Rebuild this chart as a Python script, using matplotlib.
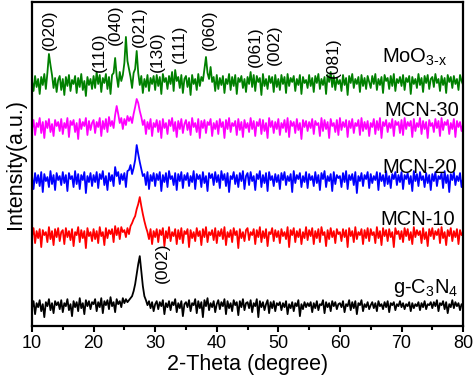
import matplotlib
matplotlib.use("Agg")
import matplotlib.pyplot as plt
import numpy as np

plt.rcParams["font.family"] = ["Liberation Sans", "DejaVu Sans"]
plt.rcParams["mathtext.fontset"] = "custom"
plt.rcParams["mathtext.rm"] = "Liberation Sans"
plt.rcParams["mathtext.it"] = "Liberation Sans"

# 2-theta grid, 0.25 degree steps from 10 to 80 (one row below = 5 degrees)
two_theta = np.arange(10.0, 80.001, 0.25)

# intensities (arbitrary units, before stacking)
moo3 = [
    22, 12, 27, 16, 24, 9, 26, 18, 29, 14, 30, 49, 38, 28, 15, 25, 11, 23, 27, 13,
    24, 8, 26, 17, 28, 12, 23, 19, 27, 10, 25, 16, 29, 13, 22, 7, 26, 18, 24, 14,
    27, 15, 31, 19, 28, 11, 25, 20, 29, 14, 26, 9, 28, 30, 45, 27, 16, 31, 22, 28,
    40, 66, 42, 34, 26, 15, 30, 34, 52, 30, 18, 27, 10, 24, 16, 28, 12, 25, 19, 27,
    13, 28, 17, 26, 9, 29, 21, 25, 14, 27, 19, 31, 12, 33, 22, 26, 15, 28, 10, 24,
    27, 16, 25, 8, 28, 19, 24, 13, 29, 17, 26, 22, 34, 46, 30, 24, 36, 21, 26, 12,
    28, 14, 25, 18, 27, 10, 24, 19, 29, 13, 26, 17, 28, 9, 25, 21, 27, 15, 24, 11,
    26, 19, 31, 16, 28, 12, 27, 21, 25, 8, 29, 17, 24, 14, 27, 20, 26, 11, 28, 16,
    24, 13, 28, 19, 26, 10, 29, 17, 25, 21, 27, 12, 24, 18, 28, 9, 26, 20, 23, 15,
    28, 17, 25, 11, 27, 20, 29, 14, 24, 18, 26, 9, 28, 21, 31, 16, 27, 13, 25, 19,
    23, 12, 28, 18, 25, 8, 27, 20, 29, 15, 24, 19, 26, 11, 28, 17, 25, 14, 27, 21,
    15, 27, 19, 29, 13, 24, 18, 26, 10, 28, 22, 25, 14, 27, 17, 29, 12, 24, 20, 26,
    17, 28, 13, 25, 21, 27, 9, 26, 19, 24, 15, 29, 18, 25, 11, 27, 20, 28, 14, 24,
    26, 16, 29, 20, 24, 12, 27, 18, 25, 10, 28, 21, 26, 15, 27, 19, 24, 13, 28, 22,
    18,
]
mcn30 = [
    18, 27, 12, 24, 20, 29, 14, 25, 9, 26, 19, 28, 15, 23, 11, 27, 21, 25, 16, 28,
    13, 24, 19, 29, 10, 26, 22, 27, 15, 24, 8, 28, 18, 25, 21, 29, 12, 26, 17, 24,
    27, 14, 25, 20, 29, 11, 26, 18, 28, 15, 30, 21, 26, 19, 32, 41, 33, 24, 29, 18,
    28, 22, 31, 26, 30, 24, 33, 40, 48, 44, 36, 30, 22, 27, 13, 25, 18, 28, 11, 24,
    20, 27, 15, 26, 9, 28, 19, 24, 13, 27, 21, 29, 16, 25, 10, 26, 18, 28, 14, 23,
    27, 17, 25, 12, 29, 20, 24, 15, 28, 9, 26, 19, 27, 14, 25, 22, 28, 11, 24, 18,
    26, 13, 28, 20, 25, 9, 27, 18, 29, 15, 24, 21, 26, 12, 28, 17, 25, 10, 27, 19,
    24, 15, 29, 18, 26, 11, 25, 21, 28, 13, 27, 16, 24, 9, 29, 20, 26, 14, 25, 18,
    28, 12, 24, 19, 27, 15, 29, 10, 26, 21, 25, 14, 28, 17, 24, 8, 27, 20, 26, 16,
    25, 19, 28, 13, 26, 22, 24, 11, 29, 16, 27, 18, 25, 9, 28, 21, 24, 15, 27, 12,
    29, 17, 25, 20, 27, 10, 26, 19, 28, 14, 24, 21, 27, 12, 29, 16, 25, 18, 26, 11,
    24, 20, 28, 13, 26, 17, 29, 9, 25, 21, 27, 15, 24, 19, 28, 11, 26, 22, 25, 14,
    27, 12, 29, 18, 25, 21, 26, 10, 28, 16, 24, 20, 29, 13, 26, 18, 25, 9, 27, 21,
    24, 15, 28, 19, 26, 11, 29, 17, 25, 22, 27, 13, 24, 18, 28, 10, 26, 20, 25, 16,
    23,
]
mcn20 = [
    24, 11, 27, 17, 25, 14, 28, 8, 26, 19, 23, 13, 29, 16, 25, 10, 27, 20, 24, 15,
    28, 17, 25, 9, 27, 21, 24, 13, 29, 16, 26, 11, 25, 20, 28, 7, 24, 18, 27, 14,
    25, 18, 28, 12, 26, 21, 29, 15, 24, 10, 27, 19, 25, 14, 33, 24, 28, 16, 26, 20,
    27, 13, 29, 30, 35, 26, 32, 40, 55, 46, 38, 31, 24, 26, 15, 28, 11, 25, 19, 27,
    14, 26, 20, 28, 9, 25, 18, 27, 13, 29, 21, 24, 15, 27, 10, 26, 19, 28, 12, 25,
    20, 27, 14, 24, 18, 29, 11, 26, 21, 25, 13, 28, 17, 24, 9, 27, 22, 26, 15, 28,
    18, 25, 12, 29, 20, 26, 14, 27, 8, 24, 21, 28, 16, 25, 13, 27, 19, 29, 11, 24,
    27, 15, 28, 19, 24, 10, 26, 21, 29, 13, 25, 17, 27, 9, 28, 20, 24, 14, 26, 18,
    25, 11, 27, 20, 28, 15, 24, 19, 26, 8, 29, 17, 25, 21, 27, 13, 24, 18, 28, 12,
    26, 20, 24, 14, 28, 17, 25, 10, 27, 21, 29, 13, 24, 19, 26, 9, 28, 16, 25, 22,
    24, 13, 27, 18, 29, 11, 25, 20, 26, 15, 28, 7, 24, 19, 27, 14, 25, 21, 28, 12,
    26, 17, 24, 20, 28, 10, 27, 19, 25, 14, 29, 16, 24, 12, 26, 21, 28, 15, 25, 18,
    28, 11, 25, 21, 27, 16, 24, 9, 29, 19, 26, 14, 28, 20, 24, 13, 27, 17, 25, 10,
    26, 19, 28, 14, 24, 21, 27, 12, 29, 17, 25, 8, 26, 20, 28, 15, 24, 19, 27, 13,
    22,
]
mcn10 = [
    20, 28, 13, 25, 18, 27, 9, 26, 21, 24, 14, 29, 17, 25, 11, 27, 19, 28, 15, 24,
    26, 12, 28, 19, 25, 16, 27, 10, 24, 21, 29, 14, 26, 18, 25, 8, 28, 20, 24, 15,
    27, 17, 25, 13, 29, 20, 24, 11, 28, 18, 26, 22, 27, 14, 30, 21, 28, 17, 29, 24,
    26, 19, 28, 22, 30, 33, 37, 40, 47, 52, 59, 50, 42, 35, 29, 24, 17, 27, 12, 25,
    19, 27, 14, 26, 21, 28, 10, 25, 18, 29, 15, 24, 20, 27, 12, 26, 17, 28, 13, 25,
    22, 27, 9, 26, 18, 24, 15, 28, 20, 25, 11, 27, 19, 29, 14, 24, 21, 26, 16, 28,
    13, 25, 20, 27, 17, 29, 11, 24, 19, 26, 14, 28, 21, 25, 8, 27, 18, 24, 15, 26,
    28, 16, 24, 21, 27, 12, 26, 19, 29, 14, 25, 18, 27, 10, 24, 22, 28, 15, 26, 19,
    25, 13, 27, 20, 24, 17, 29, 9, 26, 21, 28, 14, 25, 19, 27, 12, 24, 18, 29, 16,
    26, 20, 28, 12, 25, 18, 27, 14, 29, 21, 24, 10, 26, 17, 28, 19, 25, 13, 27, 22,
    24, 15, 27, 19, 26, 9, 28, 20, 25, 14, 29, 17, 24, 21, 27, 12, 26, 18, 28, 15,
    27, 21, 24, 13, 29, 18, 25, 11, 28, 20, 26, 15, 27, 19, 24, 9, 28, 22, 25, 17,
    25, 14, 28, 20, 27, 16, 24, 12, 29, 19, 26, 21, 25, 13, 28, 17, 24, 10, 27, 20,
    28, 17, 25, 21, 27, 13, 29, 18, 24, 11, 26, 20, 28, 15, 25, 19, 27, 12, 26, 21,
    24,
]
gcn = [
    18, 25, 12, 23, 19, 26, 15, 22, 9, 24, 20, 27, 16, 23, 13, 25, 21, 24, 17, 26,
    14, 23, 20, 27, 16, 22, 10, 25, 19, 24, 15, 28, 18, 23, 12, 26, 20, 25, 17, 24,
    22, 27, 15, 24, 19, 28, 13, 25, 21, 26, 17, 29, 20, 24, 14, 27, 22, 25, 19, 28,
    23, 27, 24, 26, 28, 30, 35, 42, 52, 62, 70, 55, 40, 30, 26, 21, 25, 18, 24, 15,
    22, 25, 17, 24, 20, 26, 12, 23, 19, 25, 16, 24, 21, 27, 14, 23, 18, 25, 10, 22,
    24, 19, 26, 15, 23, 21, 27, 13, 25, 18, 24, 9, 26, 20, 28, 16, 23, 19, 25, 14,
    22, 26, 17, 24, 20, 27, 12, 25, 18, 23, 15, 26, 21, 24, 11, 25, 19, 27, 16, 23,
    24, 18, 26, 14, 23, 20, 27, 9, 25, 19, 24, 16, 22, 26, 13, 24, 18, 25, 15, 23,
    21, 24, 16, 23, 19, 25, 12, 22, 18, 24, 15, 23, 20, 26, 10, 22, 17, 24, 19, 23,
    20, 24, 14, 23, 18, 25, 16, 22, 21, 26, 13, 24, 19, 23, 15, 25, 20, 24, 17, 22,
    23, 19, 25, 14, 22, 20, 26, 16, 24, 18, 25, 12, 23, 21, 26, 15, 22, 19, 24, 17,
    21, 24, 18, 23, 15, 25, 20, 22, 17, 24, 19, 25, 14, 23, 21, 24, 16, 22, 20, 25,
    19, 23, 17, 22, 20, 24, 15, 23, 18, 22, 20, 24, 16, 23, 19, 25, 17, 22, 21, 24,
    18, 24, 20, 26, 15, 23, 21, 25, 17, 24, 13, 22, 19, 26, 18, 24, 20, 23, 16, 22,
    21,
]

series = [moo3, mcn30, mcn20, mcn10, gcn]
names = [r"MoO$_{\text{3-x}}$", "MCN-30", "MCN-20", "MCN-10",
         r"g-C$_{\mathregular{3}}$N$_{\mathregular{4}}$"]
colors = ["#008000", "#FF00FF", "#0000FF", "#FF0000", "#000000"]
offsets = [223, 179, 126, 70, 0]
label_pos = [(77.5, 263), (79.3, 210), (79.0, 153), (78.7, 101), (79.2, 33)]

# Miller indices of MoO3 reflections and the g-C3N4 (002) peak
hkl = ["(020)", "(110)", "(040)", "(021)", "(130)", "(111)",
       "(060)", "(061)", "(002)", "(081)", "(002)"]
hkl_x = [12.8, 20.9, 23.5, 27.4, 30.3, 33.9, 38.8, 46.2, 49.3, 58.9, 31.1]
hkl_y = [276, 254, 281, 279, 254, 263, 276, 259, 261, 248, 43]

fig = plt.figure(figsize=(4.74, 3.86), dpi=100)
ax = fig.add_axes([0.0675, 0.155, 0.9095, 0.84])

for y, c, off in zip(series, colors, offsets):
    ax.plot(two_theta, np.array(y) + off, color=c, linewidth=1.3)

for name, c, (lx, ly) in zip(names, colors, label_pos):
    ax.text(lx, ly, name, ha="right", va="baseline", fontsize=14.5)

for t, x, y in zip(hkl, hkl_x, hkl_y):
    ax.text(x, y, t, rotation=90, ha="center", va="bottom", fontsize=12.5)

ax.set_xlim(10, 80)
ax.set_ylim(0, 324)
ax.set_xticks(np.arange(10, 81, 10))
ax.set_xticks(np.arange(15, 80, 10), minor=True)
ax.set_yticks([])
ax.tick_params(axis="x", direction="out", length=4.5, width=1.5, labelsize=13, pad=2)
ax.tick_params(axis="x", which="minor", direction="out", length=3, width=1.5)
for s in ax.spines.values():
    s.set_linewidth(1.6)

ax.set_xlabel("2-Theta (degree)", fontsize=15.5, labelpad=1)
ax.set_ylabel("Intensity(a.u.)", fontsize=15.5, labelpad=4)

fig.savefig("out.png", dpi=100)
